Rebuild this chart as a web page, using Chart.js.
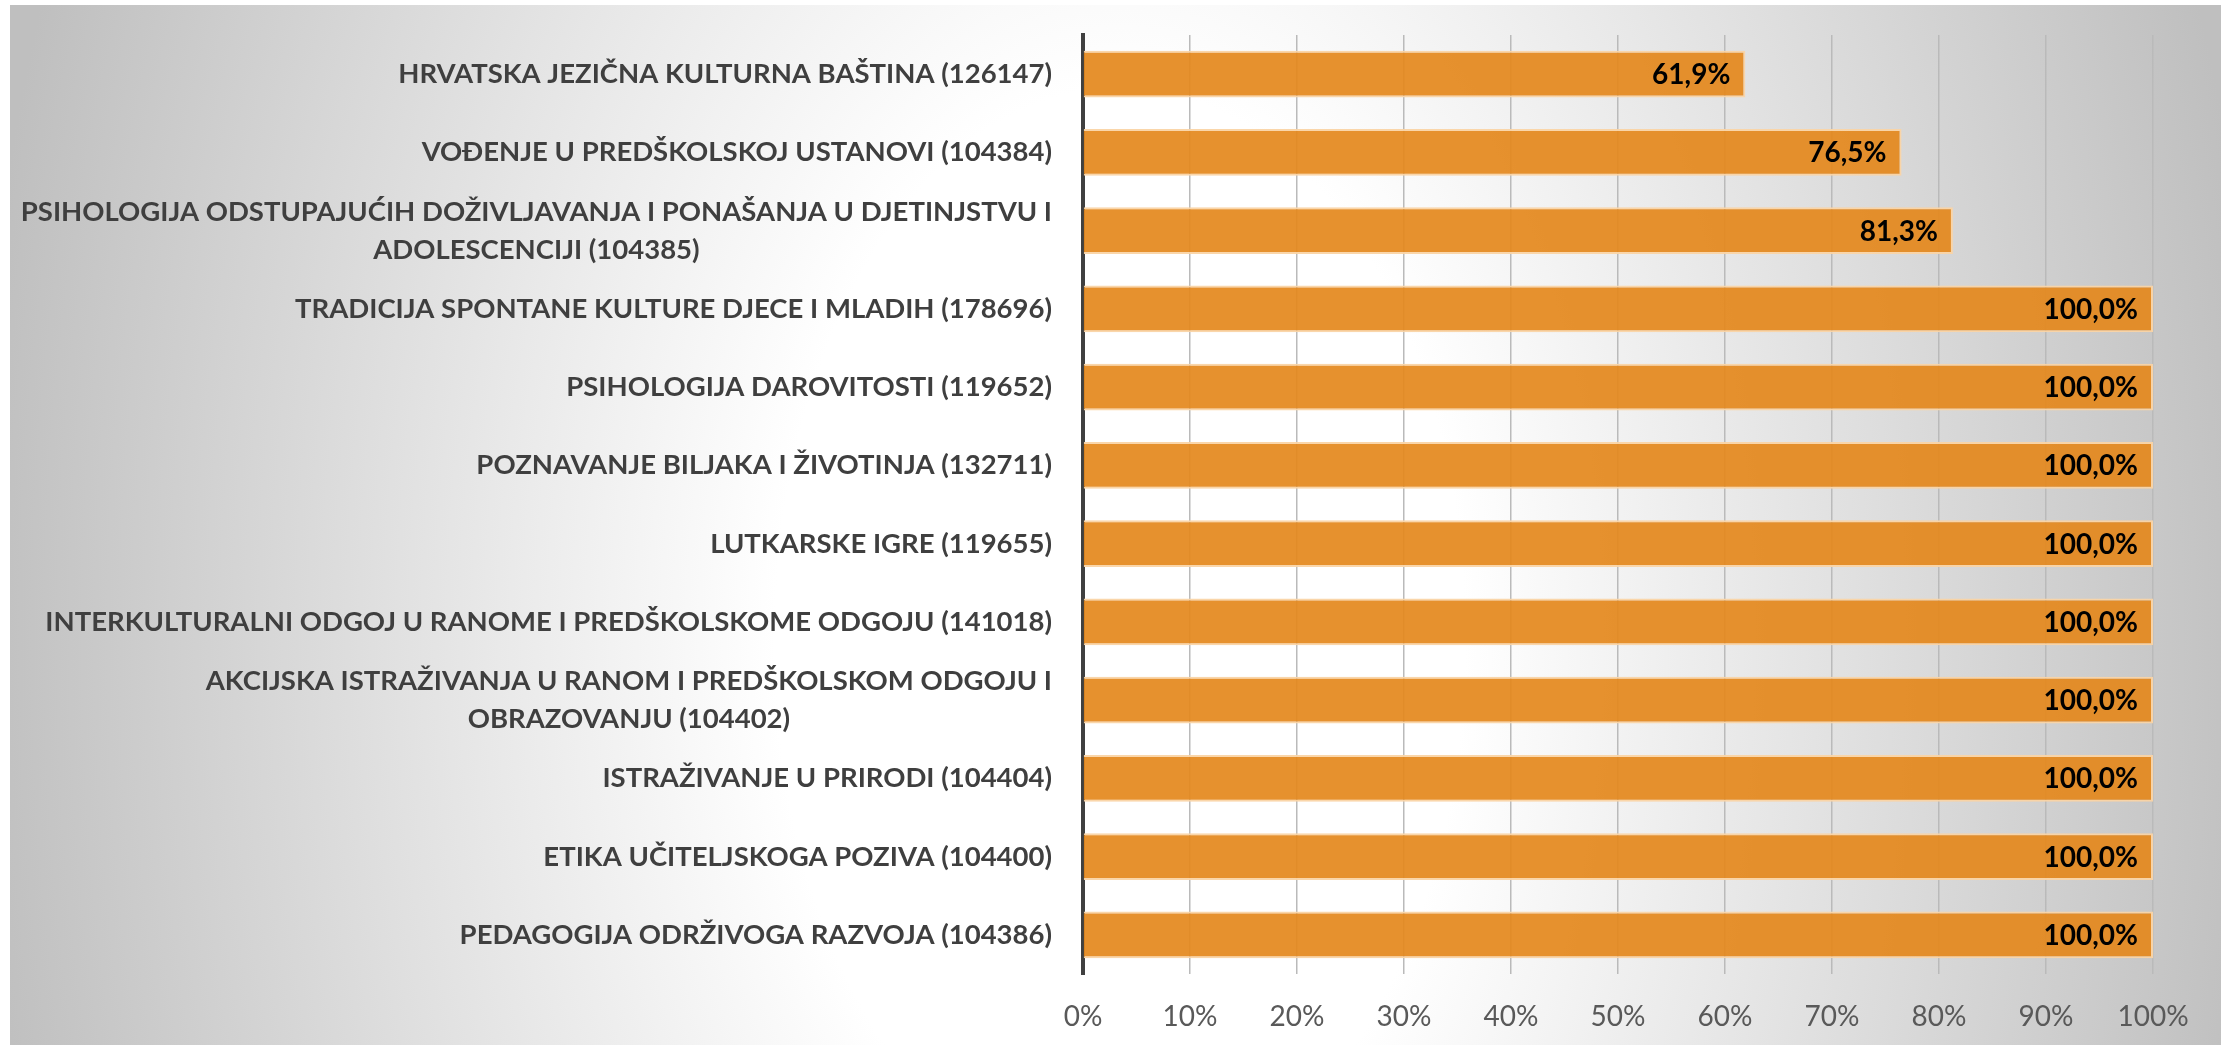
<!DOCTYPE html>
<html>
<head>
<meta charset="utf-8">
<script src="https://cdn.jsdelivr.net/npm/chart.js@4/dist/chart.umd.min.js"></script>
<style>
  html, body { margin: 0; padding: 0; background: #ffffff; overflow: hidden; }
  #wrap { width: 2221px; height: 1045px; }
</style>
</head>
<body>
<div id="wrap"><canvas id="c" width="2221" height="1045"></canvas></div>
<script>
const categories = [
  ["HRVATSKA JEZIČNA KULTURNA BAŠTINA (126147)"],
  ["VOĐENJE U PREDŠKOLSKOJ USTANOVI (104384)"],
  ["PSIHOLOGIJA ODSTUPAJUĆIH DOŽIVLJAVANJA I PONAŠANJA U DJETINJSTVU I", "ADOLESCENCIJI (104385)"],
  ["TRADICIJA SPONTANE KULTURE DJECE I MLADIH (178696)"],
  ["PSIHOLOGIJA DAROVITOSTI (119652)"],
  ["POZNAVANJE BILJAKA I ŽIVOTINJA (132711)"],
  ["LUTKARSKE IGRE (119655)"],
  ["INTERKULTURALNI ODGOJ U RANOME I PREDŠKOLSKOME ODGOJU (141018)"],
  ["AKCIJSKA ISTRAŽIVANJA U RANOM I PREDŠKOLSKOM ODGOJU I", "OBRAZOVANJU (104402)"],
  ["ISTRAŽIVANJE U PRIRODI (104404)"],
  ["ETIKA UČITELJSKOGA POZIVA (104400)"],
  ["PEDAGOGIJA ODRŽIVOGA RAZVOJA (104386)"]
];
const percentages = [61.9, 76.5, 81.3, 100, 100, 100, 100, 100, 100, 100, 100, 100];
const xTickValues = [0, 10, 20, 30, 40, 50, 60, 70, 80, 90, 100];

const bgPlugin = {
  id: 'bg',
  beforeDraw(chart) {
    const ctx = chart.ctx;
    ctx.save();
    ctx.fillStyle = '#ffffff';
    ctx.fillRect(0, 0, chart.width, chart.height);
    const cx = 1120, cy = 640, sy = 1.6, r = 1150;
    ctx.translate(cx, cy);
    ctx.scale(1, sy);
    const g = ctx.createRadialGradient(0, 0, 0, 0, 0, r);
    g.addColorStop(0, '#ffffff');
    g.addColorStop(0.3, '#ffffff');
    g.addColorStop(1, '#bfbfbf');
    ctx.fillStyle = g;
    ctx.fillRect((10 - cx), (5 - cy) / sy, chart.width - 10, (chart.height - 5) / sy);
    ctx.restore();
  }
};

const labelsPlugin = {
  id: 'catLabels',
  afterDraw(chart) {
    const ctx = chart.ctx;
    const yScale = chart.scales.y;
    const right = chart.chartArea.left - 31;
    ctx.save();
    ctx.font = 'bold 27.5px Lato';
    ctx.fillStyle = '#3f3f3f';
    ctx.textAlign = 'center';
    ctx.textBaseline = 'middle';
    const lineH = 38;
    yScale.ticks.forEach((t, i) => {
      const lines = categories[i];
      const y = yScale.getPixelForTick(i);
      const maxW = Math.max(...lines.map(l => ctx.measureText(l).width));
      const cxl = right - maxW / 2;
      const y0 = y - (lines.length - 1) * lineH / 2;
      lines.forEach((l, k) => ctx.fillText(l, cxl, y0 + k * lineH));
    });
    // data labels
    const meta = chart.getDatasetMeta(0);
    ctx.font = 'bold 28px Lato';
    ctx.fillStyle = '#000000';
    ctx.textAlign = 'right';
    meta.data.forEach((bar, i) => {
      const txt = percentages[i].toFixed(1).replace('.', ',') + '%';
      ctx.fillText(txt, bar.x - 15, bar.y + 1);
    });
    ctx.restore();
  }
};

new Chart(document.getElementById('c'), {
  type: 'bar',
  data: {
    labels: categories,
    datasets: [{
      data: percentages,
      backgroundColor: 'rgba(228,136,28,0.92)',
      borderColor: 'rgba(250,212,165,0.95)',
      borderWidth: 2,
      borderSkipped: 'start',
      categoryPercentage: 1.0,
      barPercentage: 0.6
    }]
  },
  options: {
    indexAxis: 'y',
    responsive: false,
    animation: false,
    devicePixelRatio: 1,
    layout: { padding: { left: 0, top: 35, right: 68, bottom: 0 } },
    plugins: { legend: { display: false }, tooltip: { enabled: false } },
    scales: {
      x: {
        min: 0, max: 100,
        afterBuildTicks(scale) { scale.ticks = xTickValues.map(v => ({ value: v })); },
        afterFit(scale) { scale.height = 71; },
        grid: { color: '#bababa', lineWidth: 1.5, drawTicks: false },
        border: { display: false },
        ticks: {
          padding: 26,
          color: '#595959',
          font: { family: 'Lato', size: 28 },
          callback: v => v + '%'
        }
      },
      y: {
        z: 1,
        afterFit(scale) { scale.width = 1083; },
        grid: { display: false, drawTicks: false },
        border: { display: true, color: '#404040', width: 4 },
        ticks: { display: false }
      }
    }
  },
  plugins: [bgPlugin, labelsPlugin]
});
</script>
</body>
</html>
